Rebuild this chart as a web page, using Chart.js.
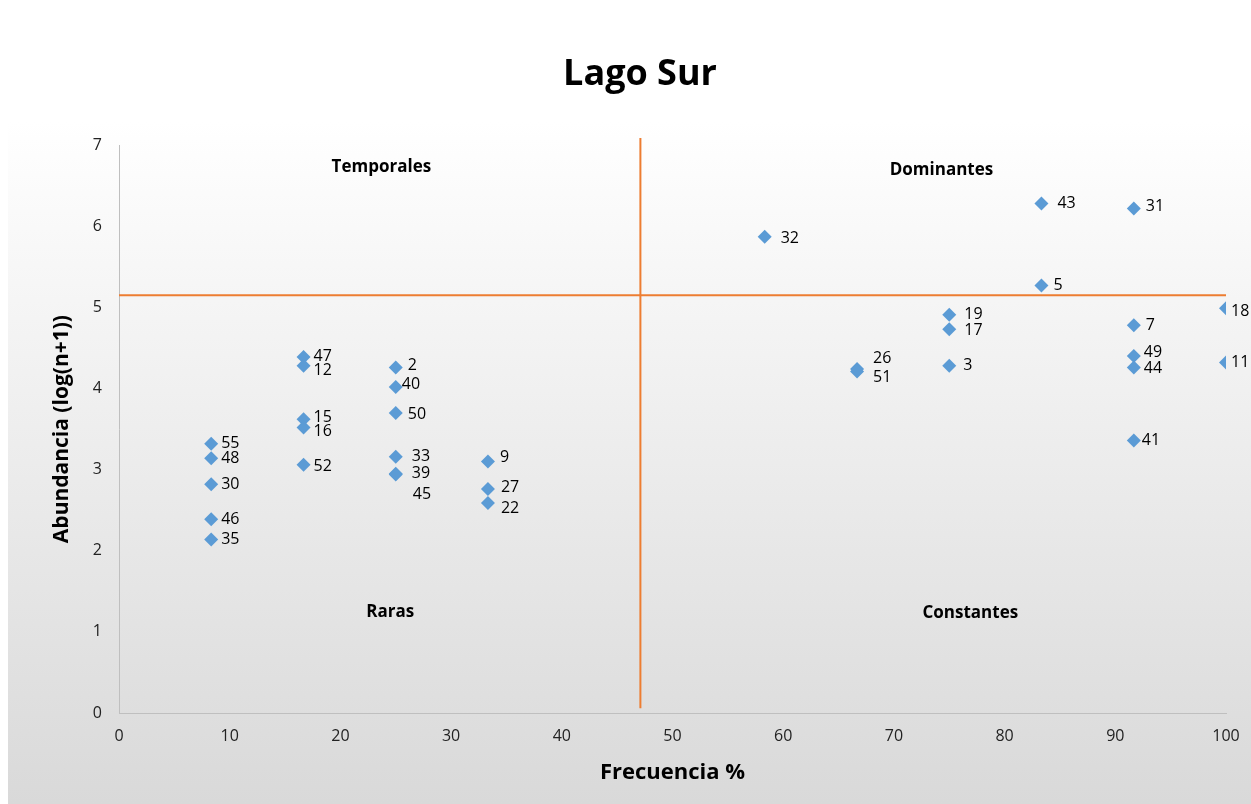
<!DOCTYPE html>
<html>
<head>
<meta charset="utf-8">
<title>Lago Sur</title>
<script src="https://cdn.jsdelivr.net/npm/chart.js@4/dist/chart.umd.min.js"></script>
<style>
  html, body { margin: 0; padding: 0; background: #fff; }
  canvas { display: block; }
</style>
</head>
<body>
<canvas id="chart" width="1251" height="804"></canvas>
<script>
  // species number, frequency (%) and abundance log(n+1)
  const species = ['55', '48', '30', '46', '35', '47', '12', '15', '16', '52', '2', '40', '50', '33', '39', '45', '9', '27', '22',
    '32', '26', '51', '19', '17', '3', '43', '5', '31', '7', '49', '44', '41', '18', '11']
  const frequency = [8.33, 8.33, 8.33, 8.33, 8.33, 16.67, 16.67, 16.67, 16.67, 16.67, 25, 25, 25, 25, 25, 25, 33.33, 33.33, 33.33,
    58.33, 66.67, 66.67, 75, 75, 75, 83.33, 83.33, 91.67, 91.67, 91.67, 91.67, 91.67, 100, 100]
  const abundance = [3.32, 3.14, 2.82, 2.39, 2.14, 4.39, 4.28, 3.62, 3.52, 3.06, 4.26, 4.02, 3.70, 3.16, 2.95, 2.94, 3.10, 2.76, 2.59,
    5.87, 4.24, 4.21, 4.91, 4.73, 4.28, 6.28, 5.27, 6.22, 4.78, 4.40, 4.26, 3.36, 4.99, 4.32]

  // dividing lines between the quadrants
  const cutFrequency = 47.1
  const cutAbundance = 5.15

  const quadrantNames = ['Temporales', 'Dominantes', 'Raras', 'Constantes']
  const quadrantX = [23.7, 74.3, 24.5, 76.9]
  const quadrantY = [6.73, 6.69, 1.24, 1.23]

  const xTicks = [0, 10, 20, 30, 40, 50, 60, 70, 80, 90, 100]
  const yTicks = [0, 1, 2, 3, 4, 5, 6, 7]

  // label nudges in pixels [dx, dy], default is [10, 0]
  const labelShift = {
    '12': [10, 5], '2': [12, -2], '40': [6, -2], '50': [12, 2], '15': [10, -2], '16': [10, 4], '52': [10, 2],
    '33': [16, 0], '39': [16, 0], '45': [17, 20], '9': [12, -4], '27': [13, -2], '22': [13, 6],
    '43': [16, 0], '31': [12, -2], '32': [16, 2], '5': [12, 0], '18': [5, 3], '19': [15, 0], '17': [15, 1],
    '7': [12, 0], '49': [10, -4], '44': [10, 1], '11': [5, 0], '26': [16, -11], '51': [16, 6], '3': [14, 0], '41': [8, 0]
  }

  const font = 'Open Sans'

  const points = species.map((s, i) => ({ x: frequency[i], y: abundance[i] }))

  const backgroundPlugin = {
    id: 'bg',
    beforeDraw(chart) {
      const { ctx, width, height } = chart
      ctx.save()
      ctx.fillStyle = '#ffffff'
      ctx.fillRect(0, 0, width, height)
      const g = ctx.createLinearGradient(0, 0, 0, height)
      g.addColorStop(0, '#ffffff')
      g.addColorStop(0.15, '#ffffff')
      g.addColorStop(1, '#d9d9d9')
      ctx.fillStyle = g
      ctx.fillRect(8, 0, width - 8, height)
      ctx.restore()
    },
  }

  const textPlugin = {
    id: 'texts',
    afterDatasetsDraw(chart) {
      const { ctx } = chart
      const xs = chart.scales.x
      const ys = chart.scales.y
      ctx.save()
      // quadrant names
      ctx.fillStyle = '#000'
      ctx.font = `bold 17px "${font}"`
      ctx.textAlign = 'center'
      ctx.textBaseline = 'middle'
      quadrantNames.forEach((name, i) => {
        ctx.fillText(name, xs.getPixelForValue(quadrantX[i]), ys.getPixelForValue(quadrantY[i]))
      })
      // point labels
      ctx.font = `16px "${font}"`
      ctx.textAlign = 'left'
      const meta = chart.getDatasetMeta(0)
      meta.data.forEach((pt, i) => {
        const shift = labelShift[species[i]] || [10, 0]
        ctx.fillText(species[i], pt.x + shift[0], pt.y + shift[1])
      })
      ctx.restore()
    },
  }

  new Chart(document.getElementById('chart'), {
    type: 'scatter',
    data: {
      datasets: [
        {
          label: 'Especies',
          data: points,
          pointStyle: 'rectRot',
          pointRadius: 7,
          pointHoverRadius: 7,
          backgroundColor: '#5b9bd5',
          borderColor: '#5b9bd5',
          borderWidth: 0,
          order: 0,
        },
        {
          label: 'corte frecuencia',
          data: [{ x: cutFrequency, y: 0.06 }, { x: cutFrequency, y: 7.09 }],
          showLine: true,
          pointRadius: 0,
          borderColor: '#ed7d31',
          borderWidth: 2,
          clip: false,
          order: 1,
        },
        {
          label: 'corte abundancia',
          data: [{ x: 0, y: cutAbundance }, { x: 100, y: cutAbundance }],
          showLine: true,
          pointRadius: 0,
          borderColor: '#ed7d31',
          borderWidth: 2,
          clip: false,
          order: 1,
        },
      ],
    },
    options: {
      responsive: false,
      animation: false,
      layout: { padding: { left: 29, right: 0, top: 0, bottom: 0 } },
      plugins: {
        legend: { display: false },
        tooltip: { enabled: false },
        title: {
          display: true,
          text: 'Lago Sur',
          color: '#000',
          font: { family: font, size: 36, weight: 'bold' },
          padding: { top: 53, bottom: 49 },
        },
      },
      scales: {
        x: {
          type: 'linear',
          min: 0,
          max: 100,
          afterFit: scale => {
            scale.height = 91
            scale.paddingLeft = 0
            scale.paddingRight = 0
          },
          afterBuildTicks: scale => { scale.ticks = xTicks.map(v => ({ value: v })) },
          grid: { display: false, drawTicks: false },
          border: { display: true, color: '#bfbfbf', width: 1 },
          ticks: { color: '#222', padding: 14, maxRotation: 0, font: { family: font, size: 16 } },
          title: {
            display: true,
            text: 'Frecuencia %',
            color: '#000',
            font: { family: font, size: 22, weight: 'bold' },
            padding: { top: 0, bottom: 18 },
          },
        },
        y: {
          type: 'linear',
          min: 0,
          max: 7,
          afterFit: scale => { scale.width = 90 },
          afterBuildTicks: scale => { scale.ticks = yTicks.map(v => ({ value: v })) },
          grid: { display: false, drawTicks: false },
          border: { display: true, color: '#bfbfbf', width: 1 },
          ticks: { color: '#222', padding: 17, font: { family: font, size: 16 } },
          title: {
            display: true,
            text: 'Abundancia (log(n+1))',
            color: '#000',
            font: { family: font, size: 21, weight: 'bold' },
            padding: { top: 20, bottom: 0 },
          },
        },
        // empty right margin so the plot ends at 100 like the original
        yRight: {
          type: 'linear',
          position: 'right',
          min: 0,
          max: 7,
          afterFit: scale => { scale.width = 25 },
          grid: { display: false, drawTicks: false },
          border: { display: false },
          ticks: { display: false },
        },
      },
    },
    plugins: [backgroundPlugin, textPlugin],
  })
</script>
</body>
</html>
